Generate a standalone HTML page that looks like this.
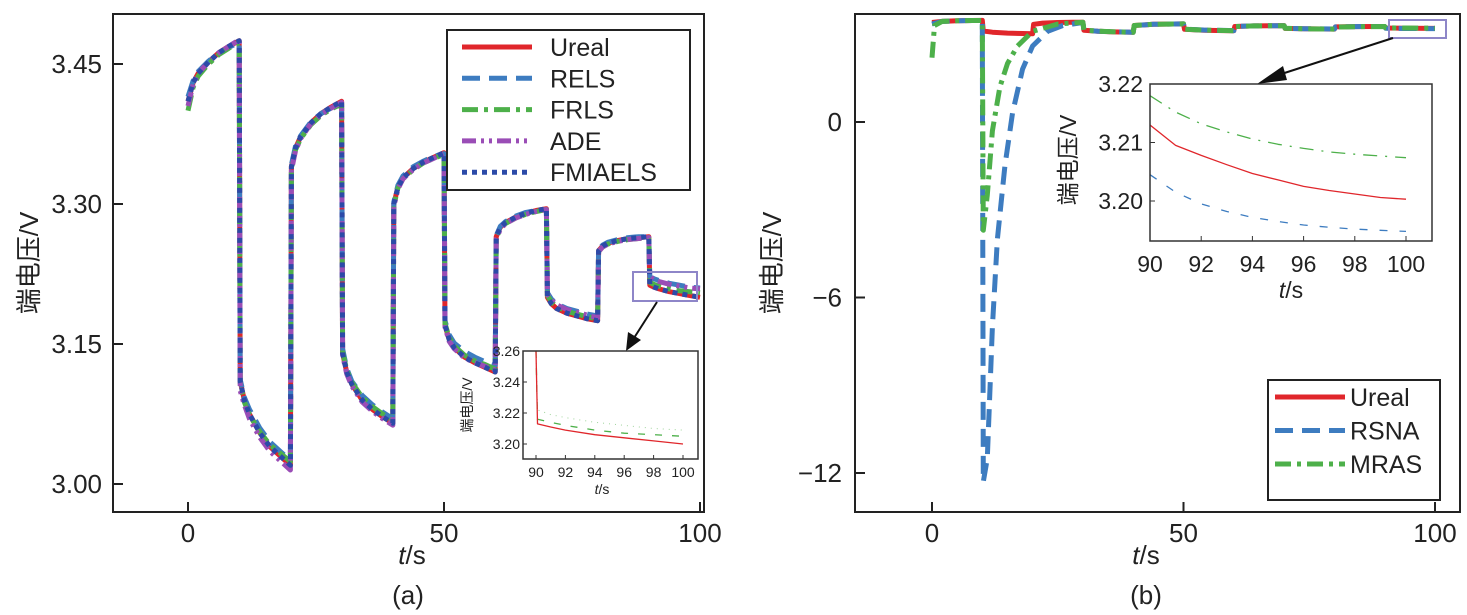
<!DOCTYPE html>
<html><head><meta charset="utf-8"><style>
html,body{margin:0;padding:0;background:#fff}
svg{display:block;font-family:"Liberation Sans","Noto Sans CJK SC",sans-serif}
</style></head><body>
<svg id="c" width="1467" height="615" viewBox="0 0 1467 615" xmlns="http://www.w3.org/2000/svg"></svg>
<script>
// ---------- data (a) ----------
const tA=[0,1,2,4,6,8,10, 10.2,11,12,14,16,18,20, 20.2,21,22,24,26,28,30, 30.2,31,32,34,36,38,40, 40.2,41,42,44,46,48,50, 50.2,51,52,54,56,58,60, 60.2,61,62,64,66,68,70, 70.2,71,72,74,76,78,80, 80.2,81,82,84,86,88,90, 90.2,91,92,94,96,98,100];
const uUreal=[3.41,3.43,3.44,3.452,3.462,3.469,3.475, 3.11,3.09,3.075,3.055,3.04,3.03,3.02, 3.34,3.36,3.372,3.387,3.397,3.404,3.41, 3.14,3.12,3.107,3.09,3.08,3.072,3.065, 3.30,3.318,3.328,3.338,3.345,3.35,3.355, 3.17,3.155,3.146,3.136,3.13,3.125,3.12, 3.265,3.275,3.28,3.286,3.29,3.293,3.295, 3.20,3.193,3.188,3.183,3.18,3.177,3.175, 3.25,3.255,3.258,3.261,3.263,3.264,3.265, 3.213,3.211,3.209,3.206,3.204,3.202,3.20];
const uRELS=[3.415,3.432,3.442,3.453,3.462,3.468,3.473, 3.112,3.093,3.08,3.06,3.045,3.035,3.025, 3.342,3.362,3.373,3.388,3.397,3.403,3.408, 3.145,3.124,3.11,3.095,3.085,3.077,3.07, 3.302,3.32,3.33,3.34,3.346,3.351,3.354, 3.175,3.16,3.151,3.142,3.136,3.131,3.127, 3.266,3.276,3.281,3.287,3.291,3.293,3.294, 3.205,3.198,3.193,3.188,3.185,3.182,3.18, 3.251,3.256,3.259,3.262,3.264,3.265,3.265, 3.222,3.22,3.218,3.215,3.213,3.211,3.21];
const uFRLS=[3.40,3.425,3.437,3.45,3.46,3.467,3.473, 3.108,3.088,3.074,3.056,3.042,3.033,3.024, 3.338,3.358,3.37,3.385,3.395,3.402,3.407, 3.142,3.122,3.109,3.093,3.083,3.075,3.068, 3.298,3.317,3.327,3.337,3.344,3.349,3.353, 3.172,3.157,3.148,3.138,3.132,3.128,3.123, 3.263,3.274,3.279,3.285,3.289,3.292,3.294, 3.202,3.195,3.19,3.185,3.182,3.179,3.177, 3.249,3.254,3.257,3.26,3.262,3.263,3.264, 3.216,3.214,3.212,3.209,3.207,3.206,3.205];
const uADE=[3.405,3.428,3.44,3.452,3.462,3.469,3.476, 3.10,3.085,3.07,3.05,3.035,3.025,3.015, 3.336,3.357,3.37,3.386,3.396,3.403,3.409, 3.138,3.118,3.105,3.088,3.078,3.07,3.063, 3.297,3.316,3.327,3.337,3.344,3.349,3.354, 3.168,3.153,3.145,3.135,3.13,3.126,3.122, 3.262,3.273,3.279,3.285,3.289,3.292,3.294, 3.203,3.197,3.192,3.187,3.184,3.181,3.178, 3.249,3.254,3.257,3.26,3.262,3.263,3.264, 3.222,3.219,3.217,3.214,3.212,3.21,3.209];
const uFMIAELS=[3.41,3.43,3.44,3.452,3.462,3.469,3.475, 3.11,3.09,3.075,3.055,3.04,3.03,3.02, 3.34,3.36,3.372,3.387,3.397,3.404,3.41, 3.14,3.12,3.107,3.09,3.08,3.072,3.065, 3.30,3.318,3.328,3.338,3.345,3.35,3.355, 3.17,3.155,3.146,3.136,3.13,3.125,3.12, 3.265,3.275,3.28,3.286,3.29,3.293,3.295, 3.20,3.193,3.188,3.183,3.18,3.177,3.175, 3.25,3.255,3.258,3.261,3.263,3.264,3.265, 3.213,3.211,3.209,3.206,3.204,3.202,3.20];
const xTicksA=[0,50,100];
const yTicksA=[3.00,3.15,3.30,3.45];
// inset (a)
const tInsA=[90,90.1,91,92,94,96,98,100];
const iUrealA=[3.26,3.213,3.211,3.209,3.206,3.204,3.202,3.20];
const iFRLSA=[3.26,3.216,3.214,3.212,3.209,3.207,3.206,3.205];
const iADEA=[3.26,3.222,3.219,3.217,3.214,3.212,3.21,3.209];
const insXTicksA=[90,92,94,96,98,100];
const insYTicksA=[3.20,3.22,3.24,3.26];
// ---------- data (b) ----------
const tB=[0,2,5,8,10, 10.2,12,15,18,20, 20.2,22,25,28,30, 30.2,33,36,40, 40.2,44,48,50, 50.2,54,58,60, 60.2,64,68,70, 70.2,74,78,80, 80.2,84,88,90, 90.2,94,100];
const bUreal=[3.40,3.44,3.46,3.47,3.475, 3.11,3.07,3.04,3.025,3.02, 3.34,3.38,3.40,3.41,3.41, 3.14,3.10,3.08,3.065, 3.30,3.34,3.35,3.355, 3.17,3.14,3.125,3.12, 3.265,3.285,3.293,3.295, 3.20,3.185,3.178,3.175, 3.25,3.26,3.264,3.265, 3.213,3.207,3.20];
const tRSNA=[0,2,5,8,10,10.2,11,12,13,14.5,16,18,20,23,26,30, 30.2,33,36,40, 40.2,44,48,50, 50.2,54,58,60, 60.2,64,68,70, 70.2,74,78,80, 80.2,84,88,90, 90.2,94,100];
const bRSNA=[3.35,3.44,3.46,3.47,3.47,-12.3,-11.5,-7,-4,-1.5,0.3,1.8,2.6,3.1,3.3,3.4, 3.145,3.105,3.085,3.07, 3.30,3.34,3.35,3.354, 3.175,3.145,3.13,3.125, 3.264,3.284,3.292,3.294, 3.205,3.19,3.182,3.18, 3.25,3.26,3.264,3.265, 3.2045,3.198,3.1948];
const tMRAS=[0,0.5,2,5,8,10,10.2,11,12,13.5,15,17,20,25,30, 30.2,33,36,40, 40.2,44,48,50, 50.2,54,58,60, 60.2,64,68,70, 70.2,74,78,80, 80.2,84,88,90, 90.2,94,100];
const bMRAS=[2.2,3.3,3.44,3.46,3.47,3.47,-3.7,-2.5,-0.3,1.2,2.0,2.6,3.1,3.35,3.41, 3.145,3.105,3.085,3.068, 3.298,3.34,3.35,3.353, 3.172,3.142,3.128,3.123, 3.263,3.284,3.292,3.294, 3.202,3.188,3.18,3.177, 3.249,3.259,3.263,3.264, 3.218,3.212,3.2074];
const xTicksB=[0,50,100];
const yTicksB=[-12,-6,0];
const tInsB=[90,91,92,93,94,95,96,97,98,99,100];
const iUrealB=[3.213,3.2095,3.2078,3.2062,3.2047,3.2036,3.2025,3.2018,3.2012,3.2006,3.2003];
const iRSNAB=[3.2045,3.2015,3.1995,3.1982,3.1972,3.1965,3.1959,3.1955,3.1952,3.195,3.1948];
const iMRASB=[3.218,3.2152,3.2132,3.2118,3.2106,3.2097,3.209,3.2084,3.208,3.2077,3.2074];
const insXTicksB=[90,92,94,96,98,100];
const insYTicksB=[3.20,3.21,3.22];

const NS='http://www.w3.org/2000/svg';
const svg=document.getElementById('c');
function mk(tag,attrs,parent){const e=document.createElementNS(NS,tag);for(const k in attrs)e.setAttribute(k,attrs[k]);(parent||svg).appendChild(e);return e;}
function lin(d0,d1,p0,p1){return v=>p0+(v-d0)*(p1-p0)/(d1-d0);}
function pathD(xs,ys,X,Y){return xs.map((t,i)=>(i?'L':'M')+X(t).toFixed(1)+','+Y(ys[i]).toFixed(1)).join('');}
function series(g,xs,ys,X,Y,color,w,dash,name){
  const p=mk('path',{d:pathD(xs,ys,X,Y),fill:'none',stroke:color,'stroke-width':w,'stroke-dasharray':dash||'none','stroke-linejoin':'round'},g);
  
  
}
function txt(g,x,y,s,size,anchor,extra){const t=mk('text',Object.assign({x:x,y:y,'font-size':size,'text-anchor':anchor||'middle',fill:'#222'},extra||{}),g);t.textContent=s;return t;}
const RED='#e0262b',BLUE='#3d7cc0',GREEN='#4db04a',PURPLE='#9a4db6',DBLUE='#2c4aa8';

function axesBox(g,x0,y0,x1,y1,name){const r=mk('rect',{x:x0,y:y0,width:x1-x0,height:y1-y0,fill:'none',stroke:'#222','stroke-width':2},g);}

// ===== Panel (a) =====
const gA=mk('g',{});


const XA=lin(0,100,188,700), YA=lin(3.0,3.45,484,64);
series(gA,tA,uUreal,XA,YA,RED,5,'','ureal-line');
series(gA,tA,uRELS,XA,YA,BLUE,5,'18,9','rels-line');
series(gA,tA,uFRLS,XA,YA,GREEN,5,'16,6,4,6','frls-line');
series(gA,tA,uADE,XA,YA,PURPLE,5,'14,5,3,5,3,5','ade-line');
series(gA,tA,uFMIAELS,XA,YA,DBLUE,5,'5,5','fmiaels-line');
axesBox(gA,113,14,704,512,'axes-frame-a');
xTicksA.forEach(v=>{mk('line',{x1:XA(v),x2:XA(v),y1:512,y2:502,stroke:'#222','stroke-width':2},gA);const t=txt(gA,XA(v),542,String(v),26);});
yTicksA.forEach(v=>{mk('line',{x1:113,x2:123,y1:YA(v),y2:YA(v),stroke:'#222','stroke-width':2},gA);const t=txt(gA,102,YA(v)+9,v.toFixed(2),26,'end');});
let t1=txt(gA,412,564,'',26);t1.innerHTML='<tspan font-style="italic">t</tspan>/s';

let t2=txt(gA,408,604,'(a)',26);
let t3=txt(gA,0,0,'端电压/V',26,'middle',{transform:'translate(38,263) rotate(-90)'});
// legend a
const lgA=mk('g',{},gA);


mk('rect',{x:447,y:30,width:243,height:160,fill:'#fff',stroke:'#222','stroke-width':2},lgA);
[['Ureal',RED,''],['RELS',BLUE,'18,9'],['FRLS',GREEN,'16,6,4,6'],['ADE',PURPLE,'14,5,3,5,3,5'],['FMIAELS',DBLUE,'5,5']].forEach((e,i)=>{
  const y=47+i*31.3;
  const ge=mk('g',{},lgA);
  
  
  mk('line',{x1:462,x2:532,y1:y,y2:y,stroke:e[1],'stroke-width':5,'stroke-dasharray':e[2]||'none'},ge);
  txt(ge,550,y+9,e[0],25,'start');
});
// zoom rect + arrow
const zr=mk('rect',{x:633,y:272,width:64,height:29,fill:'none',stroke:'#8e86c8','stroke-width':2},gA);

mk('line',{x1:657,y1:302,x2:634,y2:338,stroke:'#111','stroke-width':2},gA);
mk('polygon',{points:'626,351 628,332 641,340',fill:'#111'},gA);
// inset a
const iA=mk('g',{},gA);


mk('rect',{x:523,y:351,width:175,height:108,fill:'#fff'},iA);
const XiA=lin(90,100,536,683), YiA=lin(3.20,3.26,444,351);
series(iA,tInsA,iADEA,XiA,YiA,'#9fd49c',1,'1,5','inset-ade-line');
series(iA,tInsA,iFRLSA,XiA,YiA,GREEN,1.3,'7,10','inset-frls-line');
series(iA,tInsA,iUrealA,XiA,YiA,RED,1.3,'','inset-ureal-line');
mk('rect',{x:523,y:351,width:175,height:108,fill:'none',stroke:'#333','stroke-width':1.5},iA);
insXTicksA.forEach(v=>{mk('line',{x1:XiA(v),x2:XiA(v),y1:459,y2:455,stroke:'#333'},iA);txt(iA,XiA(v),477,String(v),14);});
insYTicksA.forEach(v=>{mk('line',{x1:523,x2:527,y1:YiA(v),y2:YiA(v),stroke:'#333'},iA);txt(iA,520,YiA(v)+5,v.toFixed(2),14,'end');});
let ia=txt(iA,602,494,'',14);ia.innerHTML='<tspan font-style="italic">t</tspan>/s';
txt(iA,0,0,'端电压/V',14,'middle',{transform:'translate(472,405) rotate(-90)'});

// ===== Panel (b) =====
const gB=mk('g',{});


const XB=lin(0,100,932,1435), YB=lin(-12,0,473,122);
series(gB,tB,bUreal,XB,YB,RED,5,'','ureal-line-b');
series(gB,tRSNA,bRSNA,XB,YB,BLUE,5,'18,9','rsna-line');
series(gB,tMRAS,bMRAS,XB,YB,GREEN,5,'16,6,4,6','mras-line');
axesBox(gB,855,14,1460,512,'axes-frame-b');
xTicksB.forEach(v=>{mk('line',{x1:XB(v),x2:XB(v),y1:512,y2:502,stroke:'#222','stroke-width':2},gB);const t=txt(gB,XB(v),542,String(v),26);});
yTicksB.forEach(v=>{mk('line',{x1:855,x2:865,y1:YB(v),y2:YB(v),stroke:'#222','stroke-width':2},gB);const t=txt(gB,842,YB(v)+9,v<0?'\u2212'+Math.abs(v):String(v),26,'end');});
let b1=txt(gB,1146,564,'',26);b1.innerHTML='<tspan font-style="italic">t</tspan>/s';

let b2=txt(gB,1146,604,'(b)',26);
let b3=txt(gB,0,0,'端电压/V',26,'middle',{transform:'translate(781,263) rotate(-90)'});
const lgB=mk('g',{},gB);


mk('rect',{x:1268,y:380,width:172,height:120,fill:'#fff',stroke:'#222','stroke-width':2},lgB);
[['Ureal',RED,''],['RSNA',BLUE,'18,9'],['MRAS',GREEN,'16,6,4,6']].forEach((e,i)=>{
  const y=397+i*33.5;
  const ge=mk('g',{},lgB);
  
  
  mk('line',{x1:1275,x2:1345,y1:y,y2:y,stroke:e[1],'stroke-width':5,'stroke-dasharray':e[2]||'none'},ge);
  txt(ge,1350,y+9,e[0],25,'start');
});
const zr2=mk('rect',{x:1389,y:20,width:57,height:18,fill:'none',stroke:'#8e86c8','stroke-width':2},gB);

mk('line',{x1:1393,y1:38,x2:1272,y2:77,stroke:'#111','stroke-width':2},gB);
mk('polygon',{points:'1257,84 1283,66 1287,80',fill:'#111'},gB);
const iB=mk('g',{},gB);


mk('rect',{x:1150,y:84,width:282,height:157,fill:'#fff'},iB);
const XiB=lin(90,100,1150,1406), YiB=lin(3.20,3.22,201,84);
series(iB,tInsB,iMRASB,XiB,YiB,GREEN,1.3,'14,8,2,8','inset-mras-line');
series(iB,tInsB,iUrealB,XiB,YiB,RED,1.3,'','inset-ureal-line-b');
series(iB,tInsB,iRSNAB,XiB,YiB,BLUE,1.3,'8,12','inset-rsna-line');
mk('rect',{x:1150,y:84,width:282,height:157,fill:'none',stroke:'#333','stroke-width':1.5},iB);
insXTicksB.forEach(v=>{mk('line',{x1:XiB(v),x2:XiB(v),y1:241,y2:236,stroke:'#333'},iB);txt(iB,XiB(v),272,String(v),23);});
insYTicksB.forEach(v=>{mk('line',{x1:1150,x2:1155,y1:YiB(v),y2:YiB(v),stroke:'#333'},iB);txt(iB,1143,YiB(v)+8,v.toFixed(2),23,'end');});
let ib=txt(iB,1291,298,'',23);ib.innerHTML='<tspan font-style="italic">t</tspan>/s';
txt(iB,0,0,'端电压/V',23,'middle',{transform:'translate(1076,160) rotate(-90)'});
</script>
</body></html>
